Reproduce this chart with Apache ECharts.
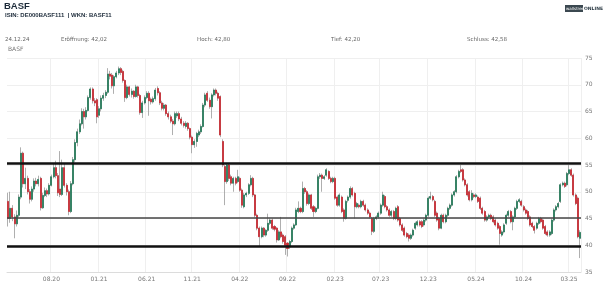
<!DOCTYPE html>
<html><head><meta charset="utf-8">
<script src="https://cdn.jsdelivr.net/npm/echarts@6/dist/echarts.min.js"></script>
<style>html,body{margin:0;padding:0;background:#fff}#c{width:606px;height:282px}</style>
</head><body><div id="c"></div>
<script>
// Weekly OHLC values
const opens = [
48.2,45.0,46.9,45.3,44.0,45.6,49.0,57.2,51.5,52.5,
50.0,48.6,50.5,52.0,51.5,52.5,47.0,49.3,50.2,49.6,
51.2,52.8,54.5,53.0,50.5,49.5,54.5,51.2,50.0,46.3,
51.5,56.0,59.2,61.2,62.7,65.0,64.0,65.2,67.6,69.2,
67.0,67.2,64.3,65.5,67.5,68.0,68.6,72.0,71.8,69.8,
71.5,72.2,73.0,72.5,70.8,67.6,69.6,68.2,68.8,67.8,
69.6,68.0,64.8,66.6,67.6,68.4,67.3,66.8,67.4,69.3,
68.5,66.6,65.6,66.2,64.6,64.0,63.2,62.7,64.2,64.6,
63.6,62.8,62.2,62.8,61.8,60.2,58.8,59.4,60.6,61.2,
62.2,66.2,68.4,67.1,65.9,68.1,69.0,68.4,67.8,59.4,
54.7,51.9,55.0,52.8,51.6,52.5,51.9,52.5,50.3,47.2,
49.4,49.7,51.3,52.5,49.4,45.6,43.2,41.6,43.2,41.9,
42.8,44.1,44.7,43.5,43.2,41.0,42.5,41.9,41.6,40.4,
39.7,40.7,43.2,43.8,46.3,46.9,46.3,50.6,50.0,47.8,
49.4,47.2,46.3,46.9,52.8,53.1,52.5,53.1,53.8,52.5,
51.9,52.5,49.0,47.5,49.0,46.6,45.0,48.4,49.0,50.6,
49.7,47.2,47.5,47.2,48.2,47.5,46.6,46.0,45.0,42.6,
45.0,45.3,46.0,47.5,49.1,47.2,46.6,45.6,46.3,45.0,
47.2,45.0,43.8,43.2,42.2,41.9,41.3,41.9,43.2,43.8,
44.4,44.4,43.8,44.7,45.6,48.8,49.1,48.2,46.0,45.0,
43.2,45.6,44.4,45.6,46.9,47.5,49.4,50.0,52.8,54.1,
54.1,52.2,51.3,50.0,48.5,49.4,49.1,49.0,48.8,46.9,
46.3,44.7,45.3,45.6,45.3,44.7,44.1,43.5,41.9,42.5,
44.1,45.6,46.3,44.4,45.3,46.9,48.2,48.2,47.2,46.6,
46.3,45.3,44.1,43.5,43.2,44.1,45.0,44.7,43.5,42.5,
41.9,42.2,44.7,46.6,47.2,48.2,51.3,51.6,51.3,53.4,
54.1,53.1,49.4,48.8,41.3];
const closes = [
45.0,46.9,45.3,44.0,45.6,49.0,57.2,51.5,52.5,50.0,
48.6,50.5,52.0,51.5,52.3,47.0,49.3,50.2,49.6,51.2,
52.8,54.5,53.0,49.8,49.5,54.5,51.2,50.0,46.3,51.5,
56.0,59.2,61.2,62.7,65.0,64.0,65.2,67.6,69.2,67.0,
66.6,64.0,65.5,67.5,68.0,68.6,72.0,71.6,69.8,71.5,
72.2,73.0,72.3,70.8,67.6,69.6,68.2,68.8,67.8,69.6,
68.0,64.8,66.6,67.6,68.4,67.0,66.8,67.4,69.0,68.5,
66.6,65.6,66.2,64.6,64.0,63.2,62.7,64.6,64.6,63.6,
62.8,62.4,62.8,61.8,60.2,58.8,59.4,60.9,61.2,62.2,
66.2,68.1,67.1,65.9,68.1,69.0,68.4,67.5,60.6,55.0,
51.9,55.0,52.5,51.6,52.5,51.6,52.8,50.3,47.5,49.4,
49.7,51.3,52.5,49.4,45.6,43.2,41.6,43.2,41.9,42.8,
44.1,44.7,43.2,43.0,41.0,42.5,41.6,40.7,40.0,39.4,
40.7,43.2,43.8,46.6,46.9,46.3,50.6,50.0,47.8,49.4,
46.9,46.3,46.9,52.8,53.1,52.5,52.8,54.1,52.5,51.9,
52.5,48.8,47.5,49.4,46.3,45.0,48.2,49.0,50.6,49.4,
47.2,47.8,47.2,48.2,47.5,46.6,46.0,45.3,42.6,45.0,
45.3,46.0,47.5,49.4,47.2,46.6,45.6,46.3,45.0,46.9,
44.7,43.8,42.8,41.9,41.6,41.3,41.9,42.8,44.1,44.4,
43.8,43.5,44.7,45.6,48.8,49.1,48.5,45.6,44.7,43.2,
45.6,44.4,45.6,46.9,47.5,49.4,50.0,52.8,53.8,53.8,
52.2,51.3,49.4,48.5,49.7,49.1,49.4,48.2,46.9,46.0,
44.7,45.3,45.6,45.0,44.4,43.8,43.2,42.2,42.5,43.8,
45.6,46.3,44.4,45.3,46.9,48.2,48.5,47.5,46.6,46.0,
45.0,43.8,43.5,42.8,44.1,45.0,44.4,43.2,42.2,41.9,
42.5,44.7,46.6,47.2,47.8,51.3,51.6,51.0,53.4,54.1,
53.1,49.4,47.8,41.6,42.4];
const lows = [
43.5,44.2,44.5,41.3,43.5,45.2,48.6,50.8,50.5,49.5,
47.8,48.2,50.0,51.0,51.0,46.5,46.8,49.0,49.0,49.3,
51.0,52.5,52.5,49.2,49.0,49.2,50.8,49.3,45.6,46.0,
51.2,55.5,58.5,60.8,62.4,61.8,63.5,65.0,67.2,66.5,
66.0,62.8,63.8,65.0,67.0,67.5,68.3,71.0,69.3,68.3,
71.2,71.8,71.8,70.4,66.8,67.3,67.8,67.6,67.4,67.6,
67.6,64.4,63.8,66.3,67.3,64.2,66.3,66.5,67.0,68.0,
66.2,65.2,65.2,64.2,63.5,62.8,60.6,62.4,63.8,63.2,
62.4,62.0,61.8,61.4,59.8,57.2,58.2,58.4,60.2,60.8,
62.0,65.8,66.8,65.5,63.7,67.8,68.0,67.0,60.2,54.6,
47.5,51.5,52.0,51.2,50.0,51.2,51.6,50.0,47.0,46.9,
49.0,49.4,51.0,49.0,45.2,42.8,39.7,41.3,41.5,41.6,
42.5,43.8,42.9,42.6,40.5,40.8,41.3,40.3,38.2,37.9,
39.3,40.4,42.9,43.6,46.0,46.0,46.0,49.6,47.4,47.5,
46.6,45.3,46.0,46.7,52.4,50.0,52.2,52.8,52.2,51.6,
51.6,48.5,47.2,47.2,46.0,44.4,44.8,48.0,48.7,49.1,
45.0,46.9,46.9,46.9,47.2,46.3,45.7,45.0,41.9,42.3,
44.7,45.0,45.7,47.2,46.9,46.3,45.3,45.3,44.7,44.7,
44.4,43.5,42.5,41.6,41.3,40.7,41.0,41.6,42.9,43.5,
43.5,43.2,43.5,44.4,45.3,48.5,48.2,45.3,44.4,42.8,
43.0,44.1,44.1,45.3,46.6,47.2,49.1,49.7,52.5,53.5,
51.9,51.0,49.1,48.2,48.2,48.8,48.8,47.9,46.6,45.7,
44.4,44.4,45.0,44.7,44.1,43.5,42.9,40.1,41.6,42.2,
43.8,45.3,44.1,42.8,45.0,46.6,47.9,47.2,46.3,45.7,
44.7,43.5,43.2,42.2,42.9,43.8,44.1,42.9,41.9,41.6,
41.6,41.9,44.4,46.3,46.9,47.9,51.0,50.7,51.0,53.1,
52.8,49.1,47.5,41.3,37.6];
const highs = [
49.8,50.0,47.5,45.8,46.5,49.5,58.3,57.5,54.5,53.0,
50.5,51.0,52.5,52.6,53.0,52.8,49.8,50.8,50.6,51.6,
53.2,55.2,55.8,53.5,57.6,56.0,55.2,51.6,50.4,52.0,
56.5,59.8,61.8,63.5,65.6,65.5,65.8,68.0,69.5,69.5,
67.5,67.5,66.0,68.0,68.5,69.0,73.1,72.6,72.2,71.8,
72.6,73.4,73.3,72.8,71.0,70.0,69.8,69.3,69.0,70.0,
69.8,68.3,67.0,68.0,68.8,68.8,67.6,67.8,69.4,69.7,
68.8,67.0,66.6,66.4,65.0,64.4,63.6,65.0,65.0,65.0,
64.0,63.2,63.2,63.0,62.0,60.5,59.8,61.2,61.6,62.6,
66.6,68.5,68.8,67.6,68.4,69.3,69.3,68.7,68.0,59.8,
55.0,55.4,55.3,53.2,52.8,52.8,54.1,52.8,50.6,49.8,
50.0,51.6,53.1,52.8,49.6,45.9,43.5,43.5,43.4,43.0,
45.9,45.0,45.0,43.8,43.4,42.8,45.3,42.2,41.9,40.6,
41.0,43.5,44.1,47.0,48.2,47.2,51.9,50.9,50.3,49.7,
49.6,47.5,47.2,53.2,53.5,53.4,53.1,54.4,54.0,52.8,
52.8,52.8,49.3,49.7,49.3,46.9,48.5,49.3,51.0,50.9,
50.0,48.1,47.8,48.5,48.5,47.8,46.9,46.3,45.3,45.3,
45.6,46.3,47.8,50.0,49.4,47.5,46.9,46.6,46.6,47.2,
47.5,45.3,44.1,43.5,42.5,42.2,42.2,43.1,44.4,44.7,
44.7,44.7,45.0,45.9,49.1,50.0,49.4,48.5,46.3,45.3,
45.9,45.9,45.9,47.2,47.8,49.7,50.3,53.1,54.1,55.0,
54.4,52.5,51.6,50.3,50.3,49.7,49.7,49.3,49.1,47.2,
46.6,45.6,45.9,45.9,45.6,45.0,44.4,43.8,42.8,44.1,
45.9,46.6,46.6,45.6,47.2,48.5,48.8,48.5,47.5,46.9,
46.6,45.6,44.4,43.8,44.4,45.3,45.3,45.0,43.8,42.8,
42.8,45.0,46.9,47.5,48.1,51.6,51.9,51.9,53.7,55.0,
54.4,53.4,49.7,49.1,42.8];
// horizontal levels drawn on the chart
const levels = [55.25, 45.1, 39.9];
// x tick labels (MM.YY)
const tickLabels = ['08.20','01.21','06.21','11.21','04.22','09.22','02.23','07.23','12.23','05.24','10.24','03.25'];
// weekly categories starting 16.03.2020
const firstWeek = Date.UTC(2020, 2, 16);
const pad = n => (n < 10 ? '0' : '') + n;
const dates = opens.map((_, i) => {
  const d = new Date(firstWeek + i * 7 * 864e5);
  return pad(d.getUTCDate()) + '.' + pad(d.getUTCMonth() + 1) + '.' + String(d.getUTCFullYear()).slice(2);
});
const monthOf = s => s.slice(3);
const isTick = dates.map((d, i) => tickLabels.indexOf(monthOf(d)) >= 0 && (i === 0 || monthOf(dates[i - 1]) !== monthOf(d)));

const wickData = opens.map((o, i) => [o, closes[i], lows[i], highs[i]]);
const bodyData = opens.map((o, i) => [o, closes[i], Math.min(o, closes[i]), Math.max(o, closes[i])]);

const FONT = 'DejaVu Sans';
const HFONT = 'Liberation Sans';
const chart = echarts.init(document.getElementById('c'), null, {renderer: 'canvas'});
chart.setOption({
  animation: false,
  backgroundColor: '#fff',
  grid: {left: 7, right: 25, top: 58, bottom: 10},
  xAxis: {
    type: 'category', data: dates, boundaryGap: true,
    axisLine: {show: true, lineStyle: {color: '#dcdcdc', width: 1}},
    axisTick: {show: false},
    axisLabel: {interval: (i) => isTick[i], formatter: v => monthOf(v), fontSize: 6, color: '#777', margin: 4, fontFamily: FONT},
    splitLine: {show: true, interval: (i) => isTick[i], lineStyle: {color: '#efefef', width: 1}}
  },
  yAxis: {
    type: 'value', position: 'right', min: 35, max: 75, interval: 5,
    axisLine: {show: false}, axisTick: {show: false},
    axisLabel: {fontSize: 6, color: '#777', margin: 4, fontFamily: FONT},
    splitLine: {show: true, lineStyle: {color: '#efefef', width: 1}}
  },
  series: [
    {
      type: 'candlestick', data: wickData, barWidth: '70%', silent: true,
      itemStyle: {color: '#9a9a9a', color0: '#9a9a9a', borderColor: '#9a9a9a', borderColor0: '#9a9a9a', borderWidth: 0.8},
      markLine: {
        silent: true, symbol: ['none', 'none'], label: {show: false}, animation: false,
        data: [
          {yAxis: levels[0], lineStyle: {color: '#111', width: 2.5, type: 'solid'}},
          {yAxis: levels[1], lineStyle: {color: '#444', width: 1.5, type: 'solid'}},
          {yAxis: levels[2], lineStyle: {color: '#111', width: 2.5, type: 'solid'}}
        ]
      }
    },
    {
      type: 'candlestick', data: bodyData, barWidth: '70%', silent: true,
      itemStyle: {color: '#1d7a57', color0: '#d0212a', borderColor: '#1d7a57', borderColor0: '#d0212a', borderWidth: 0.6}
    }
  ],
  graphic: [
    {type: 'text', left: 4, top: 1, style: {text: 'BASF', fontSize: 9.5, fontWeight: 'bold', fontFamily: HFONT, fill: '#1d2b3a'}},
    {type: 'text', left: 5, top: 12, style: {text: 'ISIN: DE000BASF111  | WKN: BASF11', fontSize: 6, fontWeight: 'bold', fontFamily: HFONT, fill: '#1d2b3a'}},
    {type: 'text', left: 5, top: 37, style: {text: '24.12.24', fontSize: 5.5, fontFamily: FONT, fill: '#666'}},
    {type: 'text', left: 61, top: 37, style: {text: 'Eröffnung: 42,02', fontSize: 5.5, fontFamily: FONT, fill: '#666'}},
    {type: 'text', left: 197, top: 37, style: {text: 'Hoch: 42,80', fontSize: 5.5, fontFamily: FONT, fill: '#666'}},
    {type: 'text', left: 331, top: 37, style: {text: 'Tief: 42,20', fontSize: 5.5, fontFamily: FONT, fill: '#666'}},
    {type: 'text', left: 467, top: 37, style: {text: 'Schluss: 42,58', fontSize: 5.5, fontFamily: FONT, fill: '#666'}},
    {type: 'text', left: 8, top: 46, style: {text: 'BASF', fontSize: 6, fontFamily: FONT, fill: '#777'}},
    {type: 'rect', left: 565, top: 5, shape: {width: 18, height: 7}, style: {fill: '#3b4850'}},
    {type: 'text', left: 566, top: 6.5, style: {text: 'wallstreet', fontSize: 4, fontFamily: FONT, fill: '#fff'}},
    {type: 'text', left: 584, top: 6, style: {text: 'ONLINE', fontSize: 4.5, fontWeight: 'bold', fontFamily: FONT, fill: '#2b3a44'}}
  ]
});
</script></body></html>
